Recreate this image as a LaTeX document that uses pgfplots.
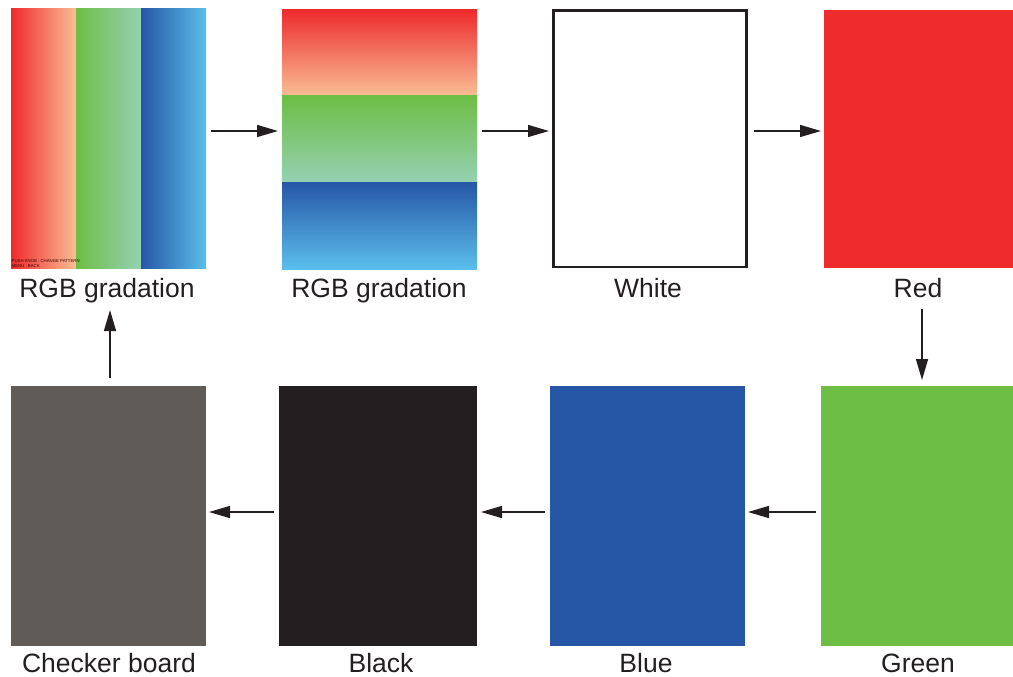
\documentclass[border=0pt]{standalone}
\usepackage{pgfplots}
\pgfplotsset{compat=1.18}
\usepackage{fontspec}
\setmainfont{Liberation Sans}
\usetikzlibrary{arrows.meta}
\definecolor{cred}{HTML}{EE2B2D}
\definecolor{cpeach}{HTML}{F9BE95}
\definecolor{cmidred}{HTML}{F27868}
\definecolor{cgreen}{HTML}{6DBE45}
\definecolor{cmint}{HTML}{95D1B2}
\definecolor{cmidgreen}{HTML}{7CC36F}
\definecolor{cblue}{HTML}{2657A6}
\definecolor{cmidblue}{HTML}{3668B3}
\definecolor{csky}{HTML}{5BBEEB}
\definecolor{cgray}{HTML}{615B58}
\definecolor{cblack}{HTML}{231F20}
\definecolor{ctext}{HTML}{231F20}
\begin{document}
\begin{tikzpicture}
\begin{axis}[
  width=1013bp, height=677bp, scale only axis,
  xmin=0, xmax=1013, ymin=0, ymax=677, y dir=reverse,
  axis lines=none, clip=false, ticks=none,
]
% ---- Row 1, panel 1: vertical RGB gradation
\addplot[draw=none, left color=cred, middle color=cmidred, right color=cpeach] coordinates {(11,9) (76,9) (76,268) (11,268)} -- cycle;
\addplot[draw=none, left color=cgreen, middle color=cmidgreen, right color=cmint] coordinates {(76,9) (141,9) (141,268) (76,268)} -- cycle;
\addplot[draw=none, left color=cblue, middle color=cmidblue, right color=csky] coordinates {(141,9) (206,9) (206,268) (141,268)} -- cycle;
\node[anchor=base west, font=\fontsize{4.3bp}{5bp}\selectfont, text=black!75!red, inner sep=0pt] at (axis cs:11.5,262) {PUSH KNOB : CHANGE PATTERN};
\node[anchor=base west, font=\fontsize{4.3bp}{5bp}\selectfont, text=black!75!red, inner sep=0pt] at (axis cs:11.5,267) {MENU : BACK};
% ---- panel 2: horizontal RGB gradation
\addplot[draw=none, top color=cred, middle color=cmidred, bottom color=cpeach] coordinates {(282,10) (477,10) (477,96) (282,96)} -- cycle;
\addplot[draw=none, top color=cgreen, middle color=cmidgreen, bottom color=cmint] coordinates {(282,96) (477,96) (477,182.5) (282,182.5)} -- cycle;
\addplot[draw=none, top color=cblue, middle color=cmidblue, bottom color=csky] coordinates {(282,182.5) (477,182.5) (477,269) (282,269)} -- cycle;
% ---- panel 3: white
\addplot[draw=cblack, line width=2.6bp, fill=white] coordinates {(553.5,10.5) (746.5,10.5) (746.5,267) (553.5,267)} -- cycle;
% ---- panel 4: red
\addplot[draw=none, fill=cred] coordinates {(824,10) (1013,10) (1013,268) (824,268)} -- cycle;
% ---- Row 2
\addplot[draw=none, fill=cgray] coordinates {(11,386) (206,386) (206,646) (11,646)} -- cycle;
\addplot[draw=none, fill=cblack] coordinates {(279,386) (477,386) (477,646) (279,646)} -- cycle;
\addplot[draw=none, fill=cblue] coordinates {(550,386) (745,386) (745,646) (550,646)} -- cycle;
\addplot[draw=none, fill=cgreen] coordinates {(821,386) (1013,386) (1013,646) (821,646)} -- cycle;
% ---- arrows
\addplot[ctext, line width=1.4bp, -{Triangle[length=21bp,width=12bp]}] coordinates {(211,131) (278,131)};
\addplot[ctext, line width=1.4bp, -{Triangle[length=21bp,width=12bp]}] coordinates {(482,131) (549,131)};
\addplot[ctext, line width=1.4bp, -{Triangle[length=21bp,width=12bp]}] coordinates {(754,131) (821,131)};
\addplot[ctext, line width=1.4bp, -{Triangle[length=21bp,width=12bp]}] coordinates {(922,309) (922,380)};
\addplot[ctext, line width=1.4bp, -{Triangle[length=21bp,width=12bp]}] coordinates {(816,512) (748,512)};
\addplot[ctext, line width=1.4bp, -{Triangle[length=21bp,width=12bp]}] coordinates {(545,512) (481,512)};
\addplot[ctext, line width=1.4bp, -{Triangle[length=21bp,width=12bp]}] coordinates {(274,512) (209,512)};
\addplot[ctext, line width=1.4bp, -{Triangle[length=21bp,width=12bp]}] coordinates {(110,378) (110,310)};
% ---- labels
\tikzset{lbl/.style={anchor=base, inner sep=0pt, text=ctext, font=\fontsize{26.5bp}{30bp}\selectfont}}
\node[lbl] at (axis cs:107,297) {RGB gradation};
\node[lbl] at (axis cs:379,297) {RGB gradation};
\node[lbl] at (axis cs:648,297) {White};
\node[lbl] at (axis cs:918,297) {Red};
\node[lbl] at (axis cs:109,672) {Checker board};
\node[lbl] at (axis cs:381,672) {Black};
\node[lbl] at (axis cs:646,672) {Blue};
\node[lbl] at (axis cs:918,672) {Green};
\end{axis}
\path (current axis.south west) rectangle (current axis.north east);
\end{tikzpicture}
\end{document}
